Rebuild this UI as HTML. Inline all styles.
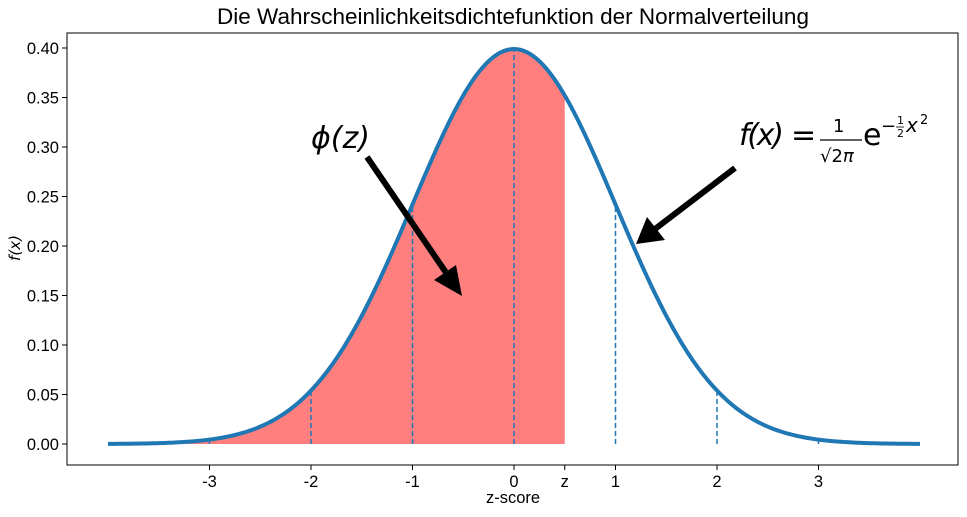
<!DOCTYPE html>
<html><head><meta charset="utf-8"><style>
body{margin:0;background:#fff;font-family:"Liberation Sans",Arial,sans-serif;}
svg text{font-family:"Liberation Sans",Arial,sans-serif;}
svg .dv{font-family:"DejaVu Sans",sans-serif;}
</style></head><body>
<svg id="chart" width="967" height="512" xmlns="http://www.w3.org/2000/svg">
<rect width="967" height="512" fill="#fff"/>
<text x="513" y="24" font-size="22.5" text-anchor="middle">Die Wahrscheinlichkeitsdichtefunktion der Normalverteilung</text>
<g id="fillg"></g><g id="vlines"></g><g id="curveg"></g>
<rect x="67" y="33" width="891" height="432" fill="none" stroke="#000" stroke-width="1"/>
<g id="xt"></g><g id="yt"></g>
<text x="513" y="503" font-size="16.5" text-anchor="middle">z-score</text>
<text class="dv" transform="translate(20,248) rotate(-90)" font-size="15" font-style="italic" text-anchor="middle">f(x)</text>
<text class="dv" x="311" y="148" font-size="30" font-style="italic">ϕ(z)</text>
<g>
<line x1="367" y1="157" x2="447" y2="274" stroke="#000" stroke-width="6"/>
<polygon points="462,296 434,280 456,265" fill="#000"/>
</g>
<g class="dv">
<text class="dv" x="739" y="145" font-size="30" font-style="italic" textLength="45">f(x)</text>
<text class="dv" x="791" y="145" font-size="30">=</text>
<text class="dv" x="833" y="132" font-size="18">1</text>
<line x1="820" y1="140" x2="862" y2="140" stroke="#000" stroke-width="1.2"/>
<text class="dv" x="820" y="162" font-size="18">√2<tspan font-style="italic">π</tspan></text>
<text class="dv" x="863" y="145" font-size="30">e</text>
<text class="dv" x="881" y="132" font-size="18">−</text>
<text class="dv" x="897" y="124" font-size="11">1</text>
<line x1="896" y1="127" x2="904" y2="127" stroke="#000" stroke-width="0.8"/>
<text class="dv" x="897" y="137" font-size="11">2</text>
<text class="dv" x="906" y="132" font-size="20" font-style="italic">x</text>
<text class="dv" x="920" y="124" font-size="13">2</text>
</g>
<g>
<line x1="735" y1="168" x2="655" y2="229" stroke="#000" stroke-width="6"/>
<polygon points="636,244 647,217 665,240" fill="#000"/>
</g>
</svg>
<script>
const xTicks=[-3,-2,-1,0,0.5,1,2,3];
const xTickLabels=["-3","-2","-1","0","z","1","2","3"];
const yTicks=[0,0.05,0.1,0.15,0.2,0.25,0.3,0.35,0.4];
const yTickLabels=["0.00","0.05","0.10","0.15","0.20","0.25","0.30","0.35","0.40"];
const dashedAt=[-3,-2,-1,0,1,2,3];
const zValue=0.5;
const xMin=-4, xMax=4;
const NS="http://www.w3.org/2000/svg";
const sx=v=>514+v*101.5, sy=v=>444-v*990;
const pdf=x=>Math.exp(-x*x/2)/Math.sqrt(2*Math.PI);
function mk(t,a,p){const e=document.createElementNS(NS,t);for(const k in a)e.setAttribute(k,a[k]);document.getElementById(p).appendChild(e);return e;}
let pts=[];for(let i=0;i<=400;i++){const x=xMin+(xMax-xMin)*i/400;pts.push(sx(x).toFixed(2)+","+sy(pdf(x)).toFixed(2));}
const c=mk("polyline",{points:pts.join(" "),fill:"none",stroke:"#1f77b4","stroke-width":4},"curveg");


let fp=[sx(xMin)+","+sy(0)];for(let i=0;i<=300;i++){const x=xMin+(zValue-xMin)*i/300;fp.push(sx(x).toFixed(2)+","+sy(pdf(x)).toFixed(2));}fp.push(sx(zValue)+","+sy(0));
const f=mk("polygon",{points:fp.join(" "),fill:"#ff0000","fill-opacity":0.5},"fillg");


dashedAt.forEach(v=>{const l=mk("line",{x1:sx(v),x2:sx(v),y1:sy(0),y2:sy(pdf(v)),stroke:"#1f77b4","stroke-width":1.5,"stroke-dasharray":"5,3"},"vlines");

});
xTicks.forEach((v,i)=>{const l=mk("line",{x1:sx(v),x2:sx(v),y1:465,y2:470,stroke:"#000"},"xt");


const t=mk("text",{x:sx(v),y:487,"font-size":16.5,"text-anchor":"middle"},"xt");t.textContent=xTickLabels[i];

});
yTicks.forEach((v,i)=>{const l=mk("line",{x1:62,x2:67,y1:sy(v),y2:sy(v),stroke:"#000"},"yt");


const t=mk("text",{x:59,y:sy(v)+6,"font-size":16.5,"text-anchor":"end"},"yt");t.textContent=yTickLabels[i];

});
</script>
</body></html>
